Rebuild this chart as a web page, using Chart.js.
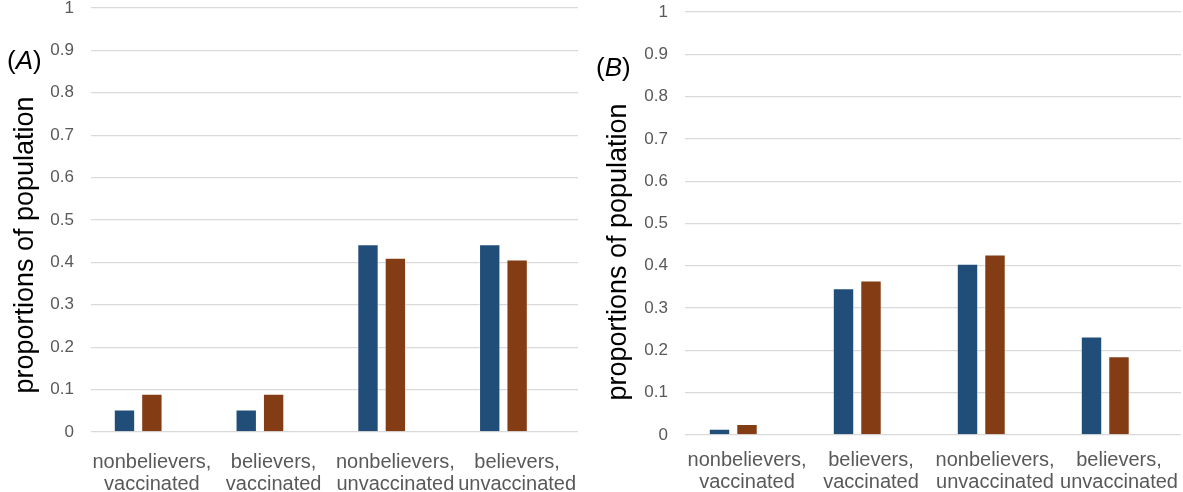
<!DOCTYPE html>
<html>
<head>
<meta charset="utf-8">
<script src="https://cdn.jsdelivr.net/npm/chart.js@4.4.1/dist/chart.umd.min.js"></script>
<style>
  html, body { margin: 0; padding: 0; background: #ffffff; }
  body { position: relative; width: 1183px; height: 492px; overflow: hidden; font-family: 'Liberation Sans', Arial, sans-serif; }
  canvas { position: absolute; }
  #cA { left: 0px; top: -20px; }
  #cB { left: 590px; top: -20px; }
  .ytitle { position: absolute; font-size: 27px; color: #000; white-space: nowrap;
            transform: translate(-50%, -50%) rotate(-90deg); }
  .panel { position: absolute; font-size: 26px; color: #000; white-space: nowrap; line-height: 1; }
</style>
</head>
<body>
<canvas id="cA" width="580" height="512"></canvas>
<canvas id="cB" width="593" height="512"></canvas>
<div class="ytitle" style="left:23.5px; top:245px;">proportions of population</div>
<div class="ytitle" style="left:617px; top:252px;">proportions of population</div>
<div class="panel" style="left:7px; top:47px;">(<i>A</i>)</div>
<div class="panel" style="left:596px; top:54px;">(<i>B</i>)</div>
<script>
// Category labels (two lines each)
const categories = [
  ['nonbelievers,', 'vaccinated'],
  ['believers,', 'vaccinated'],
  ['nonbelievers,', 'unvaccinated'],
  ['believers,', 'unvaccinated']
];

// Y-axis tick labels, 0 to 1 in steps of 0.1
const yTickLabels = ['0', '0.1', '0.2', '0.3', '0.4', '0.5', '0.6', '0.7', '0.8', '0.9', '1'];

// Panel A values
const panelABlue  = [0.053, 0.053, 0.443, 0.443];
const panelABrown = [0.090, 0.090, 0.411, 0.407];

// Panel B values
const panelBBlue  = [0.015, 0.347, 0.405, 0.233];
const panelBBrown = [0.026, 0.365, 0.427, 0.186];

// Empty third series: reserves a slot in each group, as in the original workbook
const emptySeries = [null, null, null, null];

const BLUE = '#214E79';
const BROWN = '#843C15';
const TICK_COLOR = '#595959';
const GRID_COLOR = '#d9d9d9';
const FONT = "'Liberation Sans', Arial, sans-serif";

function makePanel(canvasId, blue, brown, opts) {
  const ctx = document.getElementById(canvasId).getContext('2d');
  return new Chart(ctx, {
    type: 'bar',
    data: {
      labels: categories,
      datasets: [
        { label: 'series 1', data: blue, backgroundColor: BLUE,
          borderColor: 'rgba(255,255,255,0.35)', borderWidth: 1 },
        { label: 'series 2', data: brown, backgroundColor: BROWN,
          borderColor: 'rgba(255,255,255,0.35)', borderWidth: 1 },
        { label: 'series 3', data: emptySeries, backgroundColor: 'transparent' }
      ]
    },
    options: {
      responsive: false,
      animation: false,
      devicePixelRatio: 1,
      layout: { padding: { top: opts.padTop, right: 2, left: 0, bottom: 0 } },
      datasets: { bar: { categoryPercentage: opts.catPct, barPercentage: 0.78 } },
      plugins: { legend: { display: false }, tooltip: { enabled: false } },
      scales: {
        x: {
          grid: { display: false, drawTicks: false },
          border: { display: false },
          ticks: {
            color: TICK_COLOR,
            font: { family: FONT, size: 20, lineHeight: 1.1 },
            padding: opts.xPad,
            maxRotation: 0,
            autoSkip: false
          },
          afterFit: (s) => {
            s.height = opts.xHeight;
            // let the outer labels use the full width
            s.paddingLeft = 0;
            s.paddingRight = 0;
          }
        },
        y: {
          min: 0,
          max: 1,
          grid: { color: GRID_COLOR, lineWidth: 1.3, drawTicks: false },
          border: { display: false },
          ticks: {
            stepSize: 0.1,
            color: TICK_COLOR,
            font: { family: FONT, size: 17 },
            padding: 17,
            callback: (v, i) => yTickLabels[i]
          },
          afterFit: (s) => { s.width = opts.yWidth; }
        }
      }
    }
  });
}

makePanel('cA', panelABlue, panelABrown, { padTop: 28, catPct: 0.675, xHeight: 60, yWidth: 91, xPad: 19 });
makePanel('cB', panelBBlue, panelBBrown, { padTop: 32, catPct: 0.665, xHeight: 57, yWidth: 95, xPad: 14 });
</script>
</body>
</html>
